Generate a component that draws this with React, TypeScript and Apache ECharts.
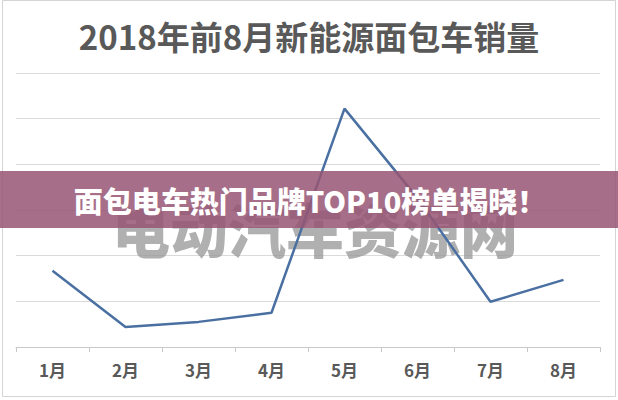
import React, { useEffect, useRef } from "react";
import * as echarts from "echarts";

const titleText = "2018年前8月新能源面包车销量";
const bannerText = "面包电车热门品牌TOP10榜单揭晓！";
const watermarkText = "电动汽车资源网";
const months = ["1月", "2月", "3月", "4月", "5月", "6月", "7月", "8月"];
const sales = [1.67, 0.44, 0.55, 0.75, 5.22, 3.26, 0.99, 1.47];

export default function App() {
  const ref = useRef<HTMLDivElement>(null);
  useEffect(() => {
    if (!ref.current) return;
    const chart = echarts.init(ref.current, null, { renderer: "svg" });
    const font = "'Noto Sans CJK SC', 'Noto Sans', sans-serif";
    chart.setOption({
      animation: false,
      backgroundColor: "#ffffff",
      title: {
        text: titleText,
        left: "center",
        top: 14,
        textStyle: { fontFamily: font, fontSize: 33, fontWeight: "bold", color: "#595959" },
      },
      grid: { left: 16, right: 18, top: 73, bottom: 53, containLabel: false },
      xAxis: {
        type: "category",
        data: months,
        boundaryGap: true,
        axisLine: { lineStyle: { color: "#c8c8c8", width: 1 } },
        axisTick: { show: true, length: 5, lineStyle: { color: "#c8c8c8" } },
        axisLabel: { fontFamily: font, fontSize: 17, fontWeight: "bold", color: "#595959", margin: 14 },
      },
      yAxis: {
        type: "value",
        min: 0,
        max: 6,
        interval: 1,
        axisLabel: { show: false },
        axisLine: { show: false },
        axisTick: { show: false },
        splitLine: { lineStyle: { color: "#dadada", width: 1.2 } },
      },
      series: [
        {
          type: "line",
          data: sales,
          symbol: "none",
          z: 3,
          lineStyle: { color: "#4a70a2", width: 2.5 },
        },
      ],
      graphic: [
        {
          type: "rect",
          z: 1,
          shape: { x: 2.5, y: 0.5, width: 613, height: 396 },
          style: { fill: "none", stroke: "#d4d4d4", lineWidth: 1 },
        },
        {
          type: "text",
          z: 1,
          x: 315,
          y: 228,
          style: {
            text: watermarkText,
            font: `900 58px ${font}`,
            fill: "rgba(150,150,150,0.75)",
            align: "center",
            verticalAlign: "middle",
          },
        },
        {
          type: "rect",
          z: 10,
          shape: { x: 0, y: 171, width: 618, height: 57 },
          style: { fill: "rgba(150,85,115,0.85)" },
        },
        {
          type: "text",
          z: 11,
          x: 310,
          y: 200,
          style: {
            text: bannerText,
            font: `900 29px ${font}`,
            fill: "#ffffff",
            align: "center",
            verticalAlign: "middle",
          },
        },
      ],
    });
    return () => chart.dispose();
  }, []);
  return (
    <div
      ref={ref}
      style={{ position: "fixed", left: 0, top: 0, width: 618, height: 400 }}
    />
  );
}
